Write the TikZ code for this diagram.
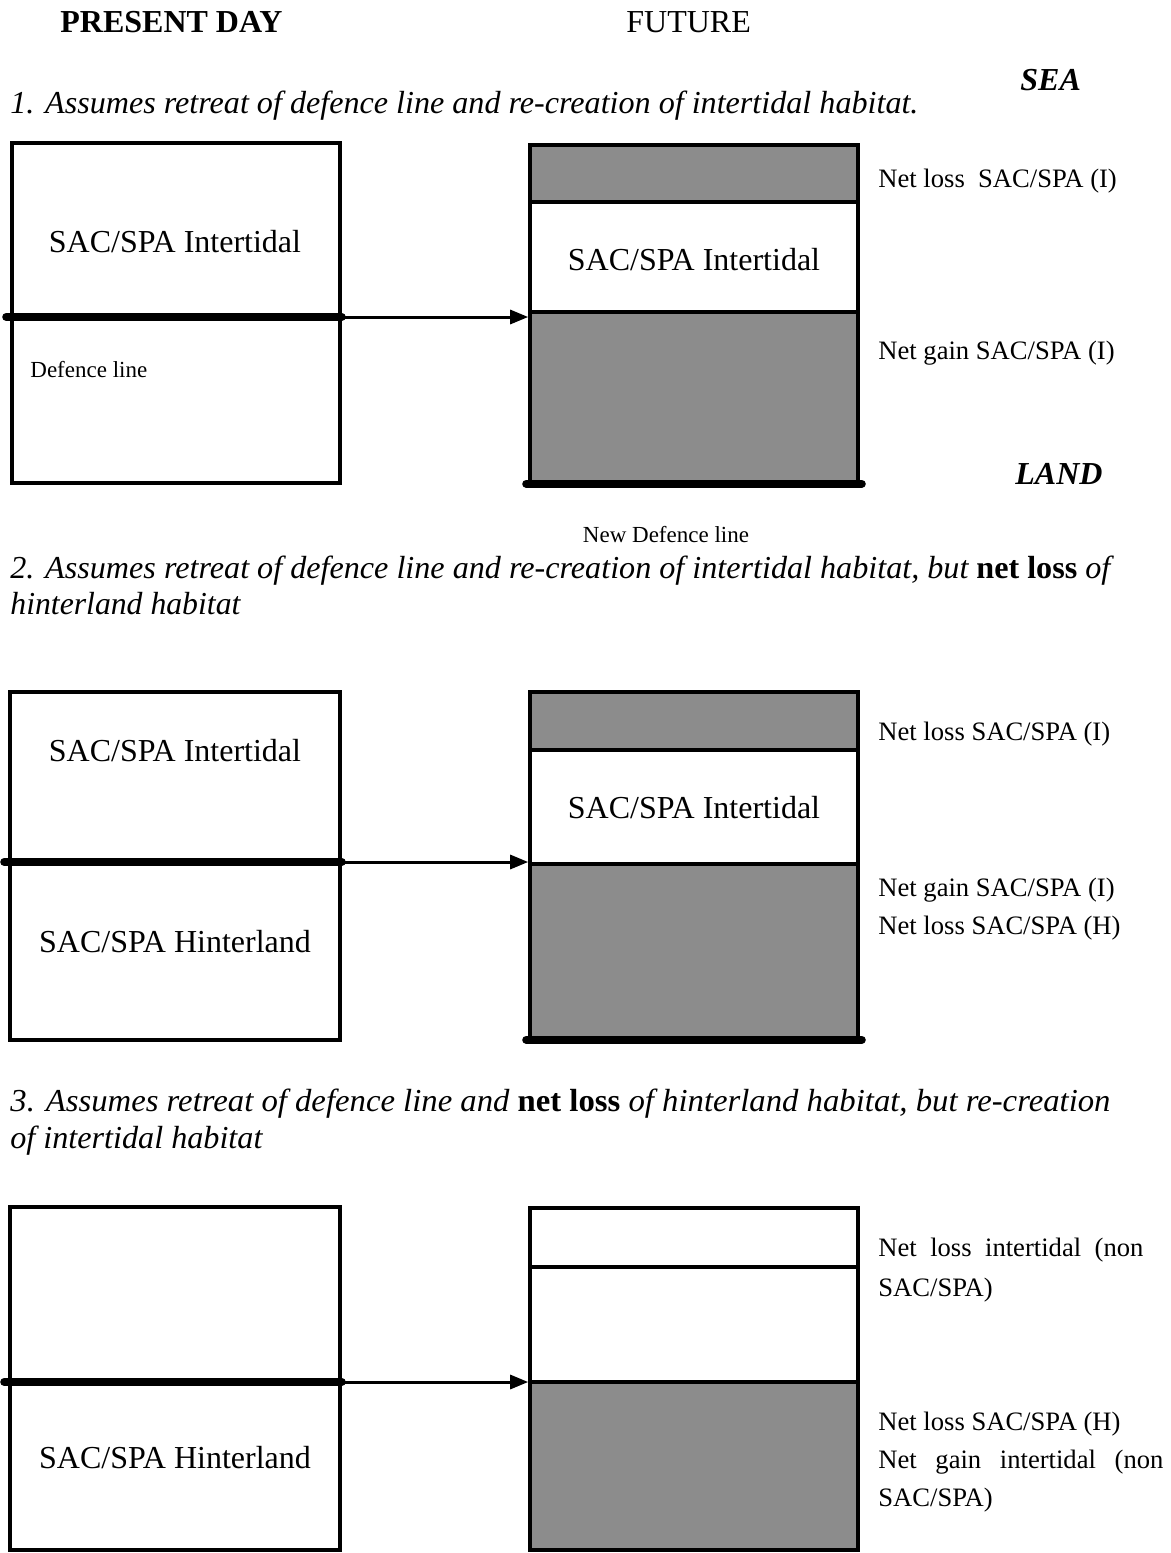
\documentclass[tikz,border=0pt]{standalone}
\usepackage{fontspec}
\setmainfont{Liberation Serif}
\usetikzlibrary{arrows.meta,fit}
\begin{document}
\begin{tikzpicture}[x=0.5pt,y=-0.5pt,
  boxframe/.style={draw, line width=1.8pt, inner sep=0pt},
  shaded/.style={fill=black!45},
  sepline/.style={line width=1.8pt},
  defline/.style={line width=4pt, line cap=round},
  conn/.style={line width=1.5pt, -{Triangle[length=9pt,width=7pt]}},
  big/.style={font=\fontsize{16}{19}\selectfont, inner sep=0pt},
  lab/.style={font=\fontsize{13.3}{16}\selectfont, anchor=west, inner sep=0pt},
  capt/.style={font=\fontsize{16}{19}\selectfont\itshape, anchor=base west, inner sep=0pt},
  small/.style={font=\fontsize{11.5}{14}\selectfont, inner sep=0pt}
]
\useasboundingbox (0,0) rectangle (1171,1553);

% headings
\node[big, font=\fontsize{16}{19}\selectfont\bfseries, anchor=base west] (hpd) at (60,32) {PRESENT DAY};
\node[big, anchor=base west] (hfu) at (626,32) {FUTURE};
\node[big, font=\fontsize{16}{19}\selectfont\bfseries\itshape, anchor=base west] (sea) at (1020,90) {SEA};

% ===== Section 1 =====
\node[capt] (c1) at (10,113) {\resizebox{454pt}{\height}{1. Assumes retreat of defence line and re-creation of intertidal habitat.}};

\fill[shaded] (530,145) rectangle (858,202);
\fill[shaded] (530,314) rectangle (858,482);
\node[boxframe, fit={(12,143)(340,483)}] (L1) {};
\node[boxframe, fit={(530,145)(858,482)}] (R1) {};
\coordinate (d1) at (0,317);
\coordinate (s1a) at (0,202);
\coordinate (s1b) at (0,312);
\draw[sepline] (R1.west |- s1a) -- (R1.east |- s1a);
\draw[sepline] (R1.west |- s1b) -- (R1.east |- s1b);
\draw[defline] ([xshift=-2pt]L1.west |- d1) -- (L1.east |- d1);
\draw[conn] (L1.east |- d1) -- (R1.west |- d1);
\draw[defline] ([xshift=-1pt]R1.south west) -- ([xshift=1pt]R1.south east);

\node[big] (t1a) at (175,242) {SAC/SPA Intertidal};
\node[small, anchor=west] (t1b) at (30,370) {Defence line};
\node[big] (t1c) at (694,260) {SAC/SPA Intertidal};
\node[lab] (n1a) at (878,181) {Net loss\ \ SAC/SPA (I)};
\node[lab] (n1b) at (878,353) {Net gain SAC/SPA (I)};
\node[big, font=\fontsize{16}{19}\selectfont\bfseries\itshape, anchor=base west] (land) at (1015,484) {LAND};
\node[small] (ndl) at (666,535) {New Defence line};

% ===== Section 2 =====
\node[capt] (c2a) at (10,578) {\resizebox{550pt}{\height}{2. Assumes retreat of defence line and re-creation of intertidal habitat, but {\bfseries\upshape net loss} of}};
\node[capt] (c2b) at (10,614) {\resizebox{115pt}{\height}{hinterland habitat}};

\fill[shaded] (530,692) rectangle (858,750);
\fill[shaded] (530,866) rectangle (858,1036);
\node[boxframe, fit={(10,692)(340,1040)}] (L2) {};
\node[boxframe, fit={(530,692)(858,1038)}] (R2) {};
\coordinate (d2) at (0,862);
\coordinate (s2a) at (0,750);
\coordinate (s2b) at (0,864);
\draw[sepline] (R2.west |- s2a) -- (R2.east |- s2a);
\draw[sepline] (R2.west |- s2b) -- (R2.east |- s2b);
\draw[defline] ([xshift=-2pt]L2.west |- d2) -- (L2.east |- d2);
\draw[conn] (L2.east |- d2) -- (R2.west |- d2);
\draw[defline] ([xshift=-1pt]R2.south west) -- ([xshift=1pt]R2.south east);

\node[big] (t2a) at (175,751) {SAC/SPA Intertidal};
\node[big] (t2b) at (175,942) {SAC/SPA Hinterland};
\node[big] (t2c) at (694,808) {SAC/SPA Intertidal};
\node[lab] (n2a) at (878,734) {Net loss SAC/SPA (I)};
\node[lab] (n2b) at (878,890) {Net gain SAC/SPA (I)};
\node[lab] (n2c) at (878,928) {Net loss SAC/SPA (H)};

% ===== Section 3 =====
\node[capt] (c3a) at (10,1111) {\resizebox{550pt}{\height}{3. Assumes retreat of defence line and {\bfseries\upshape net loss} of hinterland habitat, but re-creation}};
\node[capt] (c3b) at (10,1148) {\resizebox{126pt}{\height}{of intertidal habitat}};

\fill[shaded] (530,1384) rectangle (858,1550);
\node[boxframe, fit={(10,1207)(340,1550)}] (L3) {};
\node[boxframe, fit={(530,1208)(858,1550)}] (R3) {};
\coordinate (d3) at (0,1382);
\coordinate (s3a) at (0,1267);
\coordinate (s3b) at (0,1382);
\draw[sepline] (R3.west |- s3a) -- (R3.east |- s3a);
\draw[sepline] (R3.west |- s3b) -- (R3.east |- s3b);
\draw[defline] ([xshift=-2pt]L3.west |- d3) -- (L3.east |- d3);
\draw[conn] (L3.east |- d3) -- (R3.west |- d3);

\node[big] (t3a) at (175,1458) {SAC/SPA Hinterland};
\node[lab] (n3a) at (878,1250) {\makebox[132.5pt][s]{Net loss intertidal (non}};
\node[lab] (n3b) at (878,1290) {SAC/SPA)};
\node[lab] (n3c) at (878,1424) {Net loss SAC/SPA (H)};
\node[lab] (n3d) at (878,1462) {\makebox[142.5pt][s]{Net gain intertidal (non}};
\node[lab] (n3e) at (878,1500) {SAC/SPA)};
\end{tikzpicture}
\end{document}
